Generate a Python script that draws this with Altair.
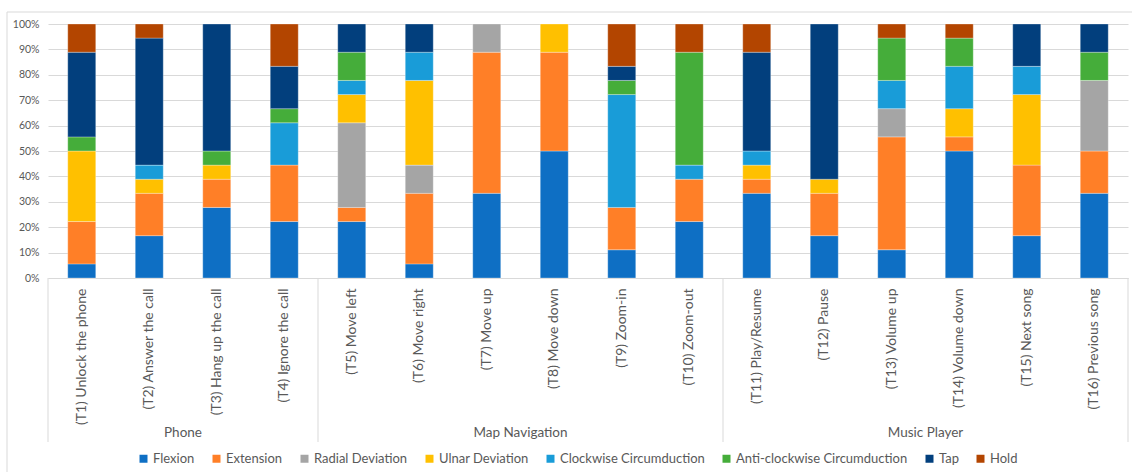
import altair as alt
import pandas as pd

# Tasks in display order, with the application group each belongs to
tasks = [
    "(T1) Unlock the phone", "(T2) Answer the call", "(T3) Hang up the call",
    "(T4) Ignore the call", "(T5) Move left", "(T6) Move right", "(T7) Move up",
    "(T8) Move down", "(T9) Zoom-in", "(T10) Zoom-out", "(T11) Play/Resume",
    "(T12) Pause", "(T13) Volume up", "(T14) Volume down", "(T15) Next song",
    "(T16) Previous song",
]
groups = ["Phone", "Map Navigation", "Music Player"]
group_sizes = [4, 6, 6]

# Gesture categories (stacked bottom to top) and their colours
motions = [
    "Flexion", "Extension", "Radial Deviation", "Ulnar Deviation",
    "Clockwise Circumduction", "Anti-clockwise Circumduction", "Tap", "Hold",
]
colors = ["#0E6FC4", "#FF7F27", "#A5A5A5", "#FFC000",
          "#199CD8", "#45AD3A", "#023F7D", "#B34500"]

# Number of participants (of 18) choosing each gesture per task
flexion = [1, 3, 5, 4, 4, 1, 6, 9, 2, 4, 6, 3, 2, 9, 3, 6]
extension = [3, 3, 2, 4, 1, 5, 10, 7, 3, 3, 1, 3, 8, 1, 5, 3]
radial = [0, 0, 0, 0, 6, 2, 2, 0, 0, 0, 0, 0, 2, 0, 0, 5]
ulnar = [5, 1, 1, 0, 2, 6, 0, 2, 0, 0, 1, 1, 0, 2, 5, 0]
clockwise = [0, 1, 0, 3, 1, 2, 0, 0, 8, 1, 1, 0, 2, 3, 2, 0]
anticlockwise = [1, 0, 1, 1, 2, 0, 0, 0, 1, 8, 0, 0, 3, 2, 0, 2]
tap = [6, 9, 9, 3, 2, 2, 0, 0, 1, 0, 7, 11, 0, 0, 3, 2]
hold = [2, 1, 0, 3, 0, 0, 0, 0, 3, 2, 2, 0, 1, 1, 0, 0]

series = [flexion, extension, radial, ulnar, clockwise, anticlockwise, tap, hold]

rows = []
for m_idx, (motion, counts) in enumerate(zip(motions, series)):
    for task, c in zip(tasks, counts):
        if c > 0:
            rows.append({"task": task, "motion": motion, "order": m_idx, "count": c})
bars_df = pd.DataFrame(rows)

# Group boundaries and centres in task units, for the category brackets
edges = [0]
for s in group_sizes:
    edges.append(edges[-1] + s)
group_df = pd.DataFrame({
    "group": groups,
    "center": [(edges[i] + edges[i + 1]) / 2 for i in range(len(groups))],
})
edge_df = pd.DataFrame({"edge": edges})

W, H = 1080, 254
GREY = "#595959"
GRID = "#d9d9d9"

bars = alt.Chart(bars_df).mark_bar(
    size=28, stroke="white", strokeWidth=0.5, strokeOpacity=0.6
).encode(
    x=alt.X("task:N", sort=tasks,
            scale=alt.Scale(paddingInner=0, paddingOuter=0),
            axis=alt.Axis(title=None, labelAngle=-90, labelPadding=10, ticks=False,
                          domainColor=GRID, labelFontSize=14, labelColor=GREY,
                          labelLimit=0)),
    y=alt.Y("count:Q", stack="normalize",
            scale=alt.Scale(domain=[0, 1]),
            axis=alt.Axis(title=None, values=[i / 10 for i in range(11)], format=".0%",
                          domain=False, ticks=False, labelPadding=9,
                          labelFontSize=10.5, labelColor=GREY, gridColor=GRID)),
    color=alt.Color("motion:N",
                    scale=alt.Scale(domain=motions, range=colors),
                    legend=alt.Legend(title=None, orient="none", direction="horizontal",
                                      legendX=89, legendY=428, symbolType="square",
                                      symbolSize=64, symbolStrokeWidth=0,
                                      labelFontSize=13, labelColor=GREY, labelOffset=3,
                                      columnPadding=15, padding=0, labelLimit=0)),
    order=alt.Order("order:Q", sort="ascending"),
)

group_x = alt.Scale(domain=[0, sum(group_sizes)], range=[0, W], nice=False, zero=False)

group_labels = alt.Chart(group_df).mark_text(
    fontSize=13.5, color=GREY, baseline="middle"
).encode(
    x=alt.X("center:Q", scale=group_x, axis=None),
    y=alt.value(H + 155),
    text="group:N",
)

group_rules = alt.Chart(edge_df).mark_rule(color=GRID, strokeWidth=1).encode(
    x=alt.X("edge:Q", scale=group_x, axis=None),
    y=alt.value(H),
    y2=alt.value(H + 164),
)

frame = alt.Chart(pd.DataFrame({"k": [0]})).mark_rect(
    fillOpacity=0, stroke=GRID, strokeWidth=1
).encode(
    x=alt.value(-41), x2=alt.value(W + 10),
    y=alt.value(-12), y2=alt.value(H + 200),
)

chart = alt.layer(frame, bars, group_rules, group_labels).resolve_scale(
    x="independent"
).properties(
    width=W, height=H,
    autosize=alt.AutoSizeParams(type="none"),
    padding={"left": 48, "top": 24, "right": 4, "bottom": 194},
).configure(
    font="Lato",
    background="white",
).configure_view(stroke=None)

chart.save("out.html", embed_options={"renderer": "svg", "actions": False})
